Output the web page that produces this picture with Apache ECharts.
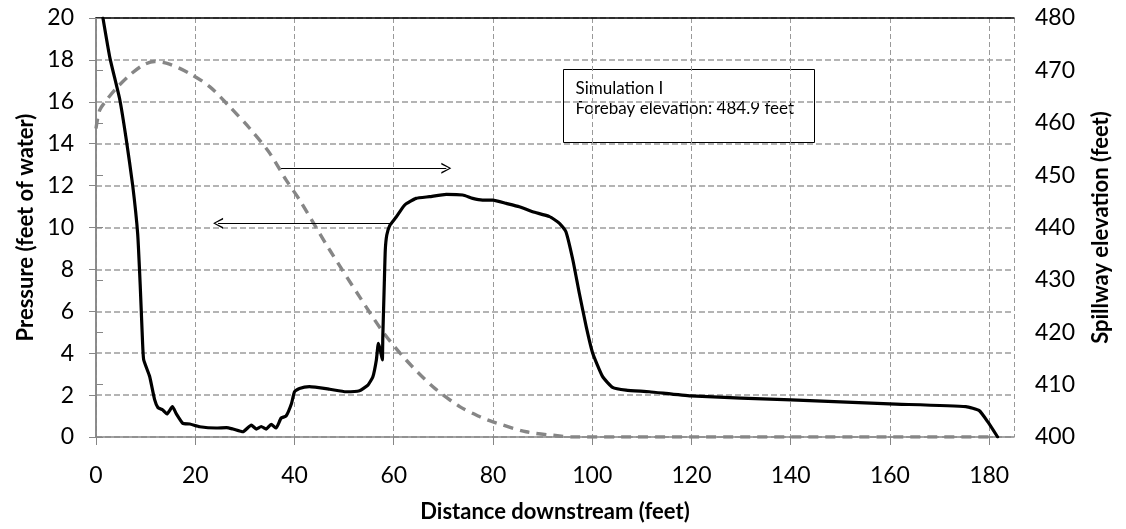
<!DOCTYPE html>
<html>
<head>
<meta charset="utf-8">
<script src="https://cdn.jsdelivr.net/npm/echarts@6/dist/echarts.min.js"></script>
<style>
html,body{margin:0;padding:0;background:#fff;}
#chart{width:1126px;height:529px;}
</style>
</head>
<body>
<div id="chart"></div>
<script>
// Pressure (feet of water) vs distance downstream (feet) - left axis
var pressure = [
  [1.4,20],[2.8,18.1],[4.8,16.1],[6.1,14.2],[7.4,12.0],[8.4,9.7],[8.9,7.3],[9.3,5.0],[9.6,3.7],
  [10.8,2.9],[11.8,1.8],[12.5,1.4],[13.4,1.3],[14.3,1.1],[15.4,1.45],[16.2,1.1],[17.5,0.65],
  [18.9,0.62],[20.9,0.49],[24.2,0.43],[26.3,0.45],[27.6,0.38],[29.6,0.25],[31.3,0.57],[32.3,0.38],
  [33.3,0.5],[34.3,0.38],[35.3,0.6],[36.3,0.43],[37.3,0.9],[38.3,1.0],[39.4,1.6],[40.0,2.16],
  [41.0,2.32],[43.0,2.4],[47.1,2.28],[50.4,2.16],[53.1,2.21],[54.8,2.48],[55.8,2.88],[56.5,3.68],
  [56.9,4.47],[57.3,4.15],[57.7,3.68],[57.8,4.79],[58.1,7.34],[58.3,8.93],[58.6,9.64],[59.2,10.1],
  [60.5,10.5],[62.2,11.07],[64.5,11.39],[67.2,11.47],[70.6,11.58],[73.9,11.55],[75.9,11.39],
  [77.9,11.31],[80.0,11.31],[82.7,11.15],[85.3,10.99],[88.0,10.75],[91.4,10.52],[93.4,10.2],
  [94.7,9.8],[96.1,8.45],[97.4,6.86],[98.8,5.26],[100.1,4.0],[102.1,2.88],[104.1,2.37],[106.8,2.24],
  [111.5,2.16],[119.9,1.96],[140.1,1.77],[159.9,1.58],[175.3,1.45],[178.0,1.26],[179.7,0.73],[181.7,0]
];
// Spillway elevation (feet) vs distance downstream - right axis
var spillway = [
  [0,458.9],[0.75,462.4],[2.1,464.3],[4.1,466.6],[6.8,469.1],[9.5,471.0],[11.8,471.7],[14.8,471.2],
  [18.9,469.4],[22.9,466.9],[26.9,463.1],[31.0,458.9],[35.0,454.2],[38.3,449.1],[41.0,445.3],
  [47.1,435.7],[53.1,426.8],[57.8,420.1],[62.5,414.7],[67.9,409.6],[73.3,405.8],[77.3,403.9],
  [80.0,402.9],[86.7,401.0],[93.4,400.2],[96,400],[181,400]
];
// annotation arrows (data coordinates on the pressure axes)
var arrowRight = [[37.3,12.83],[70.6,12.83]];
var arrowLeft = [[59.8,10.2],[24.6,10.2]];
var boxLines = ['Simulation I', 'Forebay elevation: 484.9 feet'];
var xTitle = 'Distance downstream (feet)';
var yLeftTitle = 'Pressure (feet of water)';
var yRightTitle = 'Spillway elevation (feet)';

var FONT = 'Lato, "Open Sans", sans-serif';
var axisGray = '#868686';

var chart = echarts.init(document.getElementById('chart'));
var arrowHead = 'path://M5,0 L10,10 L8.4,10 L5,2.2 L1.6,10 L0,10 Z';

chart.setOption({
  animation:false,
  backgroundColor:'#fff',
  grid:{left:96, right:112, top:18, bottom:92, containLabel:false},
  xAxis:[{
    type:'value', min:0, max:185, interval:20, position:'bottom',
    name:xTitle, nameLocation:'middle', nameGap:64,
    nameTextStyle:{fontFamily:FONT, fontSize:22, fontWeight:'bold', color:'#000'},
    axisLine:{show:true, lineStyle:{color:axisGray, width:1.5}},
    axisTick:{show:true, length:8, lineStyle:{color:axisGray, width:1}},
    axisLabel:{fontFamily:FONT, fontSize:23, color:'#000', margin:27, showMaxLabel:false},
    splitLine:{show:true, lineStyle:{color:'#999999', width:1, type:[5,3]}}
  },{
    type:'value', min:0, max:185, position:'top',
    axisLine:{show:true, onZero:false, lineStyle:{color:'#000', width:1.5}},
    axisTick:{show:false}, axisLabel:{show:false}, splitLine:{show:false}
  }],
  yAxis:[{
    type:'value', min:0, max:20, interval:2, position:'left',
    name:yLeftTitle, nameLocation:'middle', nameGap:56, nameRotate:90,
    nameTextStyle:{fontFamily:FONT, fontSize:22, fontWeight:'bold', color:'#000'},
    axisLine:{show:true, lineStyle:{color:axisGray, width:1.5}},
    axisTick:{show:true, length:7, lineStyle:{color:axisGray, width:1}},
    axisLabel:{fontFamily:FONT, fontSize:23, color:'#000', margin:22},
    splitLine:{show:true, lineStyle:{color:'#b4b4b4', width:2, type:[6,3]}}
  },{
    type:'value', min:400, max:480, interval:10, position:'right',
    name:yRightTitle, nameLocation:'middle', nameGap:76, nameRotate:90,
    nameTextStyle:{fontFamily:FONT, fontSize:22, fontWeight:'bold', color:'#000'},
    axisLine:{show:true, lineStyle:{color:axisGray, width:1.5}},
    axisTick:{show:true, length:7, lineStyle:{color:axisGray, width:1}},
    axisLabel:{fontFamily:FONT, fontSize:23, color:'#000', margin:21},
    splitLine:{show:false}
  }],
  series:[{
    name:'Spillway elevation', type:'line', xAxisIndex:0, yAxisIndex:1,
    data:spillway, smooth:0.3, showSymbol:false, symbol:'none',
    lineStyle:{color:'#868686', width:3.4, type:[10,7], cap:'butt'},
    z:2
  },{
    name:'Pressure', type:'line', xAxisIndex:0, yAxisIndex:0,
    data:pressure, smooth:0.15, showSymbol:false, symbol:'none',
    lineStyle:{color:'#000', width:3.2, join:'round', cap:'round'},
    z:3,
    markLine:{
      silent:true, animation:false,
      symbol:['none', arrowHead], symbolSize:[11,10],
      lineStyle:{color:'#000', width:1, type:'solid'},
      label:{show:false},
      emphasis:{disabled:true},
      data:[
        [{coord:arrowRight[0]},{coord:arrowRight[1]}],
        [{coord:arrowLeft[0]},{coord:arrowLeft[1]}]
      ]
    }
  }],
  graphic:[{
    type:'group', left:563, top:69, z:10,
    children:[
      {type:'rect', shape:{x:0, y:0, width:251, height:73},
       style:{fill:'#fff', stroke:'#000', lineWidth:1}},
      {type:'text', x:12, y:19, style:{text:boxLines[0], font:'17px ' + FONT, fill:'#000', verticalAlign:'middle'}},
      {type:'text', x:12, y:39, style:{text:boxLines[1], font:'17px ' + FONT, fill:'#000', verticalAlign:'middle'}}
    ]
  }]
});
</script>
</body>
</html>
